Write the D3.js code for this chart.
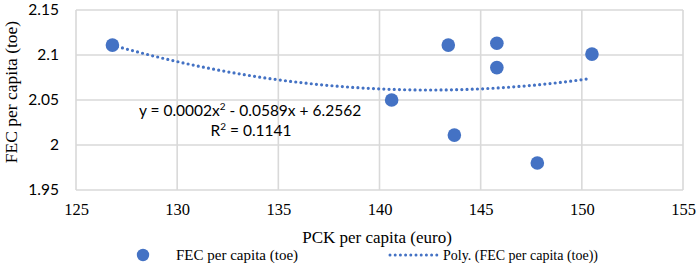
<!DOCTYPE html>
<html>
<head>
<meta charset="utf-8">
<script src="https://cdn.jsdelivr.net/npm/d3@7"></script>
<style>
  body { margin: 0; background: #fff; }
  .grid line { stroke: #d9d9d9; stroke-width: 1.6; }
  .serif { font-family: "Liberation Serif", "Times New Roman", serif; fill: #000; }
  .sans { font-family: Lato, "Open Sans", sans-serif; fill: #000; }
</style>
</head>
<body>
<div id="chart"></div>
<script>
// values
const pck = [126.8, 143.4, 145.8, 145.8, 150.5, 140.6, 143.7, 147.8];
const fec = [2.111, 2.111, 2.113, 2.086, 2.101, 2.050, 2.011, 1.980];
const xTicks = [125, 130, 135, 140, 145, 150, 155];
const yTicks = [1.95, 2, 2.05, 2.1, 2.15];
const equation = ["y = 0.0002x", "2", " - 0.0589x + 6.2562"];
const rSquared = "0.1141";

const width = 699, height = 270;
const margin = {top: 10, right: 16, bottom: 80, left: 76};
const blue = "#4472c4";

const svg = d3.select("#chart").append("svg")
  .attr("width", width).attr("height", height);

const x = d3.scaleLinear().domain([125, 155]).range([margin.left, width - margin.right]);
const y = d3.scaleLinear().domain([1.95, 2.15]).range([height - margin.bottom, margin.top]);

// gridlines
const grid = svg.append("g").attr("class", "grid");
grid.selectAll(".v").data(xTicks).join("line")
  .attr("x1", d => x(d)).attr("x2", d => x(d))
  .attr("y1", y(2.15)).attr("y2", y(1.95));
grid.selectAll(".h").data(yTicks).join("line")
  .attr("x1", x(125)).attr("x2", x(155))
  .attr("y1", d => y(d)).attr("y2", d => y(d));

// axes (labels only)
const yAxis = svg.append("g")
  .attr("transform", `translate(${margin.left},0)`)
  .call(d3.axisLeft(y).tickValues(yTicks).tickSize(0).tickPadding(17).tickFormat(d => String(d)));
yAxis.select(".domain").remove();
yAxis.selectAll("text").attr("class", "sans").attr("font-size", 15.5);

const xAxis = svg.append("g")
  .attr("transform", `translate(0,${y(1.95)})`)
  .call(d3.axisBottom(x).tickValues(xTicks).tickSize(0).tickPadding(13));
xAxis.select(".domain").remove();
xAxis.selectAll("text").attr("class", "serif").attr("font-size", 16.5);

// quadratic trendline, least squares fit on the data
function polyFit(xs, ys) {
  let s = [0, 0, 0, 0, 0], t = [0, 0, 0];
  xs.forEach((xv, i) => {
    for (let k = 0; k < 5; k++) s[k] += Math.pow(xv, k);
    for (let k = 0; k < 3; k++) t[k] += ys[i] * Math.pow(xv, k);
  });
  const A = [[s[0], s[1], s[2], t[0]], [s[1], s[2], s[3], t[1]], [s[2], s[3], s[4], t[2]]];
  for (let i = 0; i < 3; i++) {
    for (let j = i + 1; j < 3; j++) {
      const f = A[j][i] / A[i][i];
      for (let k = i; k < 4; k++) A[j][k] -= f * A[i][k];
    }
  }
  const c = [0, 0, 0];
  for (let i = 2; i >= 0; i--) {
    let v = A[i][3];
    for (let k = i + 1; k < 3; k++) v -= A[i][k] * c[k];
    c[i] = v / A[i][i];
  }
  return c;
}
const coef = polyFit(pck, fec);
const [xmin, xmax] = d3.extent(pck);
const trend = d3.range(xmin, xmax + 0.01, 0.25).map(v => [v, coef[0] + coef[1] * v + coef[2] * v * v]);

svg.append("path")
  .datum(trend)
  .attr("fill", "none")
  .attr("stroke", blue)
  .attr("stroke-width", 3.2)
  .attr("stroke-linecap", "round")
  .attr("stroke-dasharray", "0 5.2")
  .attr("d", d3.line().x(d => x(d[0])).y(d => y(d[1])));

// points
svg.append("g").selectAll("circle")
  .data(pck.map((v, i) => [v, fec[i]]))
  .join("circle")
  .attr("cx", d => x(d[0])).attr("cy", d => y(d[1]))
  .attr("r", 6.8).attr("fill", blue);

// equation label
const eq = svg.append("text").attr("class", "sans").attr("font-size", 15.5)
  .attr("x", 250).attr("y", 116).attr("text-anchor", "middle");
eq.append("tspan").text(equation[0]);
eq.append("tspan").attr("dy", -6).attr("font-size", 10).text(equation[1]);
eq.append("tspan").attr("dy", 6).text(equation[2]);
const r2 = svg.append("text").attr("class", "sans").attr("font-size", 15.5)
  .attr("x", 251).attr("y", 136).attr("text-anchor", "middle");
r2.append("tspan").text("R");
r2.append("tspan").attr("dy", -6).attr("font-size", 10).text("2");
r2.append("tspan").attr("dy", 6).text(" = " + rSquared);

// axis titles
svg.append("text").attr("class", "serif").attr("font-size", 17.5)
  .attr("text-anchor", "middle")
  .attr("transform", "translate(17,92) rotate(-90)")
  .text("FEC per capita (toe)");
svg.append("text").attr("class", "serif").attr("font-size", 17)
  .attr("text-anchor", "middle")
  .attr("x", 377).attr("y", 243)
  .text("PCK per capita (euro)");

// legend
const legend = svg.append("g");
legend.append("circle").attr("cx", 143).attr("cy", 255).attr("r", 6.2).attr("fill", blue);
legend.append("text").attr("class", "serif").attr("font-size", 15)
  .attr("x", 176).attr("y", 260).text("FEC per capita (toe)");
legend.append("line")
  .attr("x1", 390).attr("x2", 438).attr("y1", 255).attr("y2", 255)
  .attr("stroke", blue).attr("stroke-width", 3)
  .attr("stroke-linecap", "round").attr("stroke-dasharray", "0 5.2");
legend.append("text").attr("class", "serif").attr("font-size", 14)
  .attr("x", 443).attr("y", 260).text("Poly. (FEC per capita (toe))");
</script>
</body>
</html>
